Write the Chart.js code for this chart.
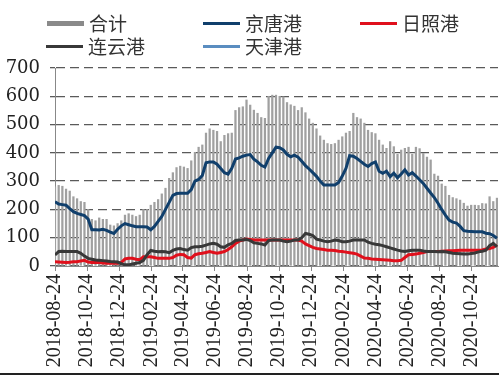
<!DOCTYPE html>
<html>
<head>
<meta charset="utf-8">
<script src="https://cdn.jsdelivr.net/npm/chart.js@4.4.1/dist/chart.umd.min.js"></script>
<style>
  html, body { margin: 0; padding: 0; background: #fff; }
  #wrap { position: relative; width: 499px; height: 375px; overflow: hidden; }
  #legend { position: absolute; left: 0; top: 0; width: 499px; height: 60px;
            font-family: "Noto Sans CJK SC", sans-serif; font-size: 19px; color: #333; }
  .item { position: absolute; display: flex; align-items: center; height: 24px; line-height: 24px; }
  .swatch { width: 37px; margin-right: 5px; }
  #edge { position: absolute; left: 0; top: 373px; width: 499px; height: 2px; background: #222; }
</style>
</head>
<body>
<div id="wrap">
  <canvas id="chart" width="499" height="375"></canvas>
  <div id="legend"></div>
  <div id="edge"></div>
</div>
<script>
// weekly series, first week = 2018-08-24
const startDate = '2018-08-24';
const tickLabels = ['2018-08-24','2018-10-24','2018-12-24','2019-02-24','2019-04-24','2019-06-24',
  '2019-08-24','2019-10-24','2019-12-24','2020-02-24','2020-04-24','2020-06-24','2020-08-24','2020-10-24'];

const total = [280,285,282,272,265,245,238,228,225,200,165,160,170,165,165,145,142,150,160,180,
  185,180,175,180,200,200,215,225,235,255,275,310,330,348,353,350,345,372,402,420,
  428,470,485,480,476,440,462,468,470,550,560,563,587,569,551,540,525,522,600,604,
  604,600,598,578,570,565,550,560,542,520,505,485,460,445,433,430,433,445,457,470,
  476,540,525,520,505,480,472,468,445,428,416,440,422,395,410,416,420,395,420,415,
  398,385,375,325,318,290,282,250,242,238,233,222,212,215,215,214,221,220,245,228,240];

const jingtang = [227,219,217,215,203,192,186,182,178,166,128,128,127,130,126,120,115,130,142,150,
  146,142,139,139,139,138,128,140,158,175,200,225,250,256,257,257,257,270,300,306,
  320,365,368,368,360,345,330,325,345,378,382,388,392,394,378,368,356,350,380,400,
  420,418,410,395,386,392,385,370,355,343,330,317,300,286,286,286,286,295,318,345,
  390,388,380,370,360,352,362,368,335,328,335,316,328,312,325,340,322,330,318,305,
  292,275,258,242,222,200,180,162,155,152,140,125,123,122,121,121,121,116,114,108,98];

const rizhao = [15,14,13,12,13,15,15,18,20,14,12,12,12,11,10,10,10,10,12,25,
  27,27,24,22,33,33,33,30,27,27,27,27,30,38,41,40,30,28,40,43,
  45,48,51,48,45,48,51,58,68,80,88,92,95,94,92,92,92,92,92,92,
  92,92,92,92,92,92,92,88,78,72,66,62,60,58,56,56,55,52,51,49,
  47,45,42,35,28,27,25,24,23,22,21,20,19,19,20,30,40,41,42,45,
  48,51,51,51,51,52,53,54,54,55,56,56,56,56,56,56,57,60,62,66,74];

const lianyun = [39,51,52,51,51,51,51,45,35,27,24,21,20,19,18,16,15,14,8,4,
  4,7,10,12,20,40,55,52,50,51,50,47,55,60,62,58,56,65,68,68,
  70,74,78,80,77,68,66,75,80,90,92,92,94,90,82,80,78,74,90,92,
  92,92,88,86,88,92,92,100,115,112,108,95,92,88,86,88,92,90,86,86,
  88,92,92,92,92,84,80,77,75,72,68,64,60,56,53,51,54,56,56,56,
  53,51,51,51,50,51,50,48,45,44,43,42,42,44,46,50,52,56,72,80,68];

const tianjin = [];

const DAY = 86400000;
const dayOffset = s => (Date.parse(s) - Date.parse(startDate)) / DAY;
const weekX = total.map((_, i) => i * 7);
const pts = arr => arr.map((v, i) => ({ x: weekX[i], y: v }));

const serif = '"Liberation Serif", "Times New Roman", serif';
const gridColor = '#5a5a5a';
const gridDash = [9, 5];

// backup for the dashed grid: only draws if the built-in one left the canvas blank there
const gridBackup = {
  id: 'gridBackup',
  afterDraw(chart) {
    const { ctx, chartArea } = chart;
    const y = chart.scales.y;
    const probeY = Math.round(y.getPixelForValue(700));
    const a = ctx.getImageData(chartArea.left + 3, probeY, 1, 1).data[3];
    const b = ctx.getImageData(chartArea.left + 3, probeY - 1, 1, 1).data[3];
    if (a > 0 || b > 0) return;
    ctx.save();
    ctx.strokeStyle = gridColor;
    ctx.lineWidth = 1.3;
    ctx.setLineDash(gridDash);
    y.ticks.forEach(t => {
      if (t.value === 0) return;
      const py = Math.round(y.getPixelForValue(t.value) - 0.65) + 0.65;
      ctx.beginPath();
      ctx.moveTo(chartArea.left, py);
      ctx.lineTo(chartArea.right, py);
      ctx.stroke();
    });
    ctx.restore();
  }
};

const chart = new Chart(document.getElementById('chart'), {
  type: 'bar',
  data: {
    datasets: [
      { type: 'bar', label: '合计', data: pts(total), backgroundColor: '#a0a0a0',
        barThickness: 1.6, order: 10 },
      { type: 'line', label: '京唐港', data: pts(jingtang), borderColor: '#103f6c',
        borderWidth: 3, pointRadius: 0, tension: 0, order: 1 },
      { type: 'line', label: '日照港', data: pts(rizhao), borderColor: '#e0101c',
        borderWidth: 3, pointRadius: 0, tension: 0, order: 3 },
      { type: 'line', label: '连云港', data: pts(lianyun), borderColor: '#383838',
        borderWidth: 3, pointRadius: 0, tension: 0, order: 2 },
      { type: 'line', label: '天津港', data: pts(tianjin), borderColor: '#5a8dc0',
        borderWidth: 3, pointRadius: 0, order: 4 }
    ]
  },
  plugins: [gridBackup],
  options: {
    responsive: false,
    animation: false,
    devicePixelRatio: 1,
    layout: { padding: { top: 68, right: 1, left: 0, bottom: 0 } },
    plugins: { legend: { display: false }, tooltip: { enabled: false } },
    scales: {
      x: {
        type: 'linear', offset: false, min: 0, max: 842,
        afterBuildTicks: s => { s.ticks = tickLabels.map(t => ({ value: dayOffset(t) })); },
        afterFit: s => { s.height = 109; s.paddingLeft = 0; s.paddingRight = 0; },
        ticks: { autoSkip: false, minRotation: 90, maxRotation: 90, padding: 3, color: '#222',
                 font: { family: serif, size: 20 }, callback: (v, i) => tickLabels[i] },
        grid: { drawOnChartArea: false, offset: false, tickLength: 5, color: '#888' },
        border: { color: '#888', width: 1 }
      },
      y: {
        min: 0, max: 700,
        afterFit: s => { s.width = 55; },
        ticks: { stepSize: 100, padding: 10, color: '#222',
                 font: { family: '"DejaVu Serif", serif', size: 18 } },
        grid: { color: gridColor, lineWidth: 1.3, tickLength: 5 },
        border: { display: true, color: '#888', width: 1, dash: gridDash }
      }
    }
  }
});

// legend laid out in two rows, like the original
const legendPos = [
  { left: 47, top: 11 }, { left: 203, top: 11 }, { left: 360, top: 11 },
  { left: 46, top: 34 }, { left: 203, top: 34 }
];
const legendOrder = ['合计', '京唐港', '日照港', '连云港', '天津港'];
const legendEl = document.getElementById('legend');
legendOrder.forEach((name, k) => {
  const ds = chart.data.datasets.find(d => d.label === name);
  const isBar = ds.type === 'bar';
  const item = document.createElement('div');
  item.className = 'item';
  item.style.left = legendPos[k].left + 'px';
  item.style.top = legendPos[k].top + 'px';
  const sw = document.createElement('span');
  sw.className = 'swatch';
  sw.style.height = (isBar ? 5 : 3) + 'px';
  sw.style.background = isBar ? '#8a8a8a' : ds.borderColor;
  const tx = document.createElement('span');
  tx.textContent = name;
  item.appendChild(sw);
  item.appendChild(tx);
  legendEl.appendChild(item);
});
</script>
</body>
</html>
